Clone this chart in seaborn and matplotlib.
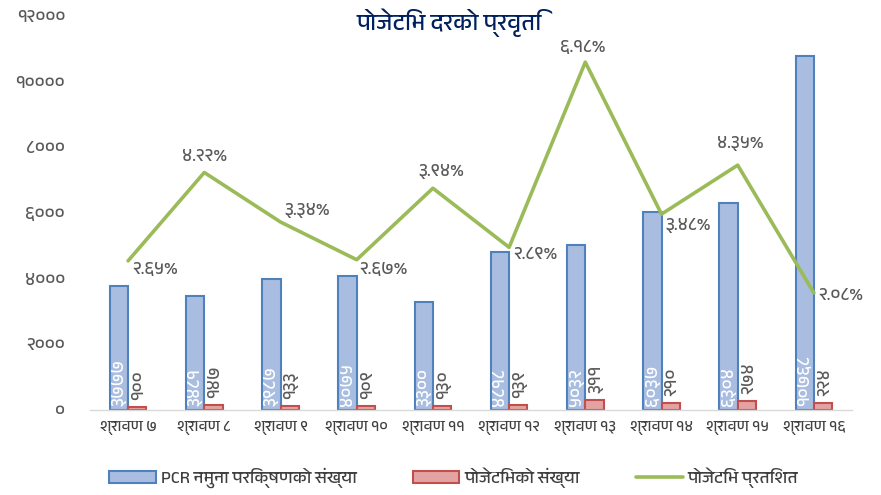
import numpy as np
import pandas as pd
import matplotlib
matplotlib.use("Agg")
import matplotlib.pyplot as plt
import matplotlib.font_manager as fm
from matplotlib.patches import Patch
from matplotlib.lines import Line2D
import seaborn as sns

# ---------------- data ----------------
categories = ["श्रावण ७", "श्रावण ८", "श्रावण ९", "श्रावण १०", "श्रावण ११",
              "श्रावण १२", "श्रावण १३", "श्रावण १४", "श्रावण १५", "श्रावण १६"]
pcr_tests = [3777, 3481, 3987, 4075, 3300, 4818, 5032, 6037, 6304, 10768]
positives = [100, 147, 133, 109, 130, 139, 311, 210, 274, 224]
positive_rate = [2.65, 4.22, 3.34, 2.67, 3.94, 2.89, 6.18, 3.48, 4.35, 2.08]
y_ticks = [0, 2000, 4000, 6000, 8000, 10000, 12000]

series_names = ["PCR नमुना परिक्षणको संख्या", "पोजेटिभको संख्या", "पोजेटिभ प्रतिशत"]
title = "पोजेटिभ दरको प्रवृति"

# ---------------- fonts ----------------
names = sorted({f.name for f in fm.fontManager.ttflist})
deva = [n for n in names if "Devanagari" in n]
deva += [n for n in names if n in ("Mangal", "Lohit Hindi", "Kalimati", "Gargi", "Samanata",
                                     "Nakula", "Sahadeva", "Annapurna SIL", "FreeSans")]
family = deva + ["DejaVu Sans"]

sns.set_theme(style="white")
plt.rcParams["font.family"] = family

DEV = str.maketrans("0123456789", "०१२३४५६७८९")
def dev(s):
    return str(s).translate(DEV)

blue_fill, blue_edge = "#A9BDE0", "#4F81BD"
red_fill, red_edge = "#E3A3A2", "#C0504D"
green = "#9BBB59"
gray = "#595959"

df = pd.DataFrame({
    "cat": categories * 2,
    "val": pcr_tests + positives,
    "series": [series_names[0]] * len(categories) + [series_names[1]] * len(categories),
})

fig = plt.figure(figsize=(8.81, 4.95), dpi=100)
ax = fig.add_axes([90 / 881, 1 - 410 / 495, (852 - 90) / 881, (410 - 16) / 495])

sns.barplot(data=df, x="cat", y="val", hue="series", order=categories,
            hue_order=series_names[:2], palette=[blue_fill, red_fill],
            width=0.48, gap=0, ax=ax, legend=False, saturation=1)

for bar in ax.containers[0]:
    bar.set_edgecolor(blue_edge)
    bar.set_linewidth(1.5)
for bar in ax.containers[1]:
    bar.set_edgecolor(red_edge)
    bar.set_linewidth(1.5)

ax.set_ylim(0, 12000)
ax.set_xlim(-0.5, len(categories) - 0.5)
ax.set_yticks(y_ticks)
ax.set_yticklabels([dev(t) for t in y_ticks], fontsize=13, color=gray)
ax.set_xticklabels(categories, fontsize=11, color="#404040")
ax.set_xlabel("")
ax.set_ylabel("")
for s in ["top", "right", "left"]:
    ax.spines[s].set_visible(False)
ax.spines["bottom"].set_color("#D9D9D9")
ax.spines["bottom"].set_linewidth(1)
ax.tick_params(axis="y", length=0, pad=18)
ax.tick_params(axis="x", length=0, pad=8)
ax.grid(False)

# bar value labels
for bar, v in zip(ax.containers[0], pcr_tests):
    ax.annotate(dev(v), (bar.get_x() + bar.get_width() / 2, 0), xytext=(0, 3),
                textcoords="offset points", rotation=90, ha="center", va="bottom",
                fontsize=13, color="white")
for bar, v in zip(ax.containers[1], positives):
    ax.annotate(dev(v), (bar.get_x() + bar.get_width() / 2, v), xytext=(1, 5),
                textcoords="offset points", rotation=90, ha="center", va="bottom",
                fontsize=13, color=gray)

# secondary axis line
ax2 = ax.twinx()
x_pos = np.arange(len(categories))
sns.lineplot(x=x_pos, y=positive_rate, ax=ax2, color=green, linewidth=2.6, legend=False)
ax2.set_ylim(0, 7)
ax2.set_yticks([])
ax2.set_ylabel("")
for s in ax2.spines.values():
    s.set_visible(False)
ax2.grid(False)

label_style = [
    ((3, -1), "left", "top"),
    ((0, 6), "center", "bottom"),
    ((3, 3), "left", "bottom"),
    ((2, -2), "left", "top"),
    ((6, 7), "center", "bottom"),
    ((3, -5), "left", "center"),
    ((-2, 5), "center", "bottom"),
    ((3, -3), "left", "top"),
    ((2, 10), "center", "bottom"),
    ((3, -2), "left", "center"),
]
for xi, r, (off, ha, va) in zip(x_pos, positive_rate, label_style):
    ax2.annotate(dev(f"{r:.2f}%"), (xi, r), xytext=off, textcoords="offset points",
                 ha=ha, va=va, fontsize=13, color=gray, annotation_clip=False)

fig.text(0.51, 0.955, title, ha="center", va="center", fontsize=17,
         fontweight="bold", color="#002060")

handles = [
    Patch(facecolor=blue_fill, edgecolor=blue_edge, linewidth=1.5),
    Patch(facecolor=red_fill, edgecolor=red_edge, linewidth=1.5),
    Line2D([0], [0], color=green, linewidth=2.6),
]
fig.legend(handles, series_names, loc="center", bbox_to_anchor=(0.515, 0.035), ncol=3,
           frameon=False, fontsize=12.5, handlelength=2.7, handleheight=0.7,
           columnspacing=3.2, handletextpad=0.3, labelcolor="#404040")

fig.savefig("out.png", dpi=100)
